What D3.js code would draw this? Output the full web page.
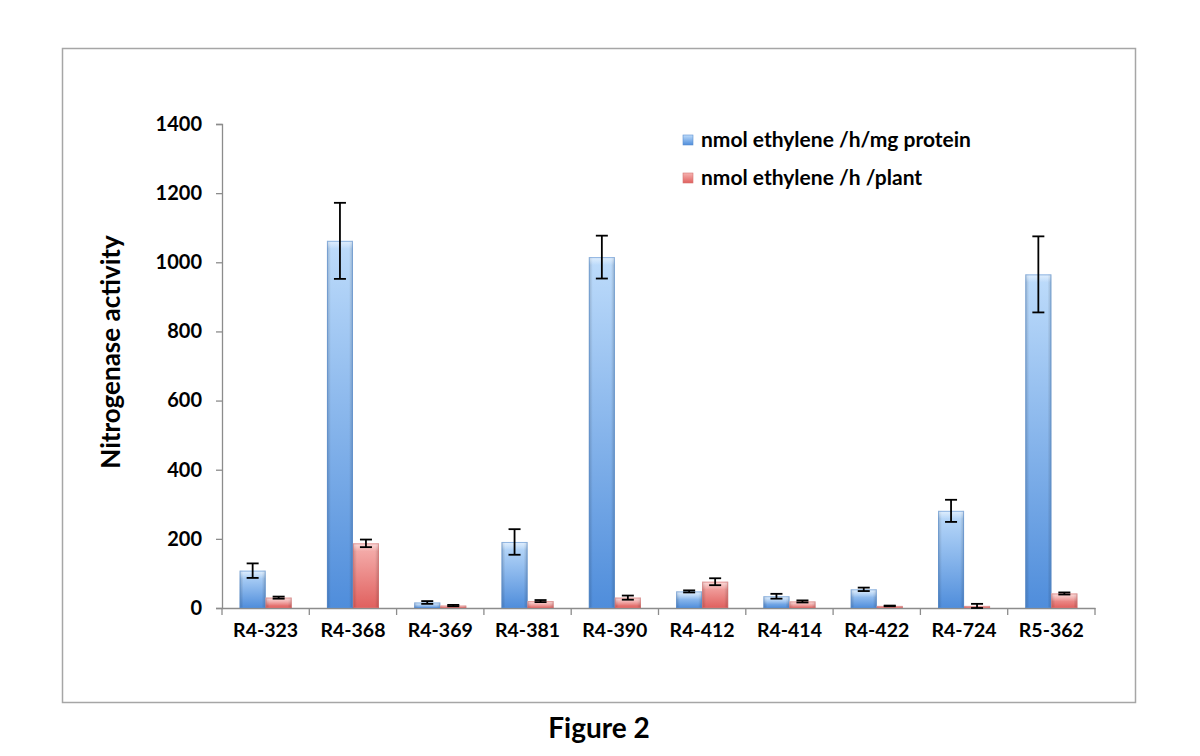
<!DOCTYPE html>
<html><head><meta charset="utf-8">
<script src="https://cdn.jsdelivr.net/npm/d3@7"></script>
<style>
body{margin:0;background:#fff;}
svg{display:block;font-family:Lato,"Open Sans",sans-serif;font-weight:bold;}
</style></head><body>
<svg id="c" width="1200" height="756"></svg>
<script>
const categories = ["R4-323","R4-368","R4-369","R4-381","R4-390","R4-412","R4-414","R4-422","R4-724","R5-362"];
const proteinValues = [108,1062,16,191,1015,48,34,54,281,965];
const proteinErrors = [21,110,4,37,62,3,7,5,32,110];
const plantValues = [30,187,7,20,30,76,19,6,6,42];
const plantErrors = [3,11,2,3,6,10,3,1,6,3];
const seriesNames = ["nmol ethylene /h/mg protein","nmol ethylene /h /plant"];
const yTicks = [0,200,400,600,800,1000,1200,1400];
const yTitle = "Nitrogenase activity";
const caption = "Figure 2";

const svg = d3.select("#c");
const defs = svg.append("defs");
function grad(id, top, bot){
  const g = defs.append("linearGradient").attr("id",id).attr("x1",0).attr("y1",0).attr("x2",0).attr("y2",1);
  g.append("stop").attr("offset","0").attr("stop-color",top);
  g.append("stop").attr("offset","1").attr("stop-color",bot);
}
grad("gBlue","#bedcfb","#4f8ddb");
grad("gRed","#f6b3b1","#e0605e");
const hg = defs.append("linearGradient").attr("id","gEdge").attr("x1",0).attr("y1",0).attr("x2",1).attr("y2",0);
[[0,0.18],[0.15,0],[0.85,0],[1,0.18]].forEach(([o,a])=>hg.append("stop").attr("offset",o).attr("stop-color","#000").attr("stop-opacity",a));
const tg = defs.append("linearGradient").attr("id","gTop").attr("x1",0).attr("y1",0).attr("x2",0).attr("y2",1);
[[0,0.55],[1,0]].forEach(([o,a])=>tg.append("stop").attr("offset",o).attr("stop-color","#fff").attr("stop-opacity",a));

// frame
svg.append("rect").attr("x",62.5).attr("y",48.5).attr("width",1073).attr("height",654)
  .attr("fill","none").attr("stroke","#a6a6a6").attr("stroke-width",1.5);

const x0 = d3.scaleBand().domain(categories).range([222,1095]).paddingInner(0).paddingOuter(0);
const y = d3.scaleLinear().domain([0,1400]).range([608,124]);
const barW = 26;

// y axis
const yAxis = svg.append("g").attr("transform","translate(222,0)")
  .call(d3.axisLeft(y).tickValues(yTicks).tickSize(6).tickPadding(14).tickFormat(d3.format("d")));
yAxis.select(".domain").attr("stroke","#8c8c8c").attr("stroke-width",1.3);
yAxis.selectAll(".tick line").attr("stroke","#8c8c8c").attr("stroke-width",1.3);
yAxis.selectAll("text").attr("font-size",20).attr("font-family","Lato,sans-serif").attr("font-weight","bold").attr("fill","#000");

// x axis
const xAxis = svg.append("g").attr("transform","translate(0,608)")
  .call(d3.axisBottom(x0).tickSize(0).tickPadding(15));
xAxis.select(".domain").attr("stroke","#8c8c8c").attr("stroke-width",1.3);
xAxis.selectAll("text").attr("font-size",19.5).attr("font-family","Lato,sans-serif").attr("font-weight","bold").attr("fill","#000");
// boundary ticks
svg.append("g").selectAll("line").data(d3.range(categories.length+1)).join("line")
  .attr("x1",i=>222+i*x0.bandwidth()).attr("x2",i=>222+i*x0.bandwidth())
  .attr("y1",608).attr("y2",615).attr("stroke","#8c8c8c").attr("stroke-width",1.3);

// bars
const series = [
  {vals:proteinValues, errs:proteinErrors, fill:"url(#gBlue)", stroke:"#5c8fcf", off:-barW},
  {vals:plantValues, errs:plantErrors, fill:"url(#gRed)", stroke:"#d57573", off:0}
];
series.forEach(s=>{
  const g = svg.append("g");
  categories.forEach((c,i)=>{
    const cx = x0(c)+x0.bandwidth()/2 + s.off;
    const v = s.vals[i];
    const yt = y(v), h = y(0)-y(v);
    g.append("rect").attr("x",cx).attr("y",yt).attr("width",barW).attr("height",h).attr("fill",s.fill);
    g.append("rect").attr("x",cx).attr("y",yt).attr("width",barW).attr("height",h).attr("fill","url(#gEdge)");
    g.append("rect").attr("x",cx).attr("y",yt).attr("width",barW).attr("height",Math.min(h,8)).attr("fill","url(#gTop)");
    g.append("rect").attr("x",cx+0.5).attr("y",yt+0.5).attr("width",barW-1).attr("height",Math.max(h-1,0))
      .attr("fill","none").attr("stroke",s.stroke).attr("stroke-opacity",0.6).attr("stroke-width",1);
  });
});
// error bars
series.forEach(s=>{
  const g = svg.append("g").attr("stroke","#000").attr("stroke-width",1.8);
  categories.forEach((c,i)=>{
    const ex = x0(c)+x0.bandwidth()/2 + s.off + barW/2;
    const v = s.vals[i], e = s.errs[i];
    const yt = y(v+e), yb = y(Math.max(v-e,0));
    g.append("line").attr("x1",ex).attr("x2",ex).attr("y1",yt).attr("y2",yb);
    g.append("line").attr("x1",ex-6).attr("x2",ex+6).attr("y1",yt).attr("y2",yt);
    g.append("line").attr("x1",ex-6).attr("x2",ex+6).attr("y1",yb).attr("y2",yb);
  });
});

// y title
svg.append("text").attr("transform","translate(120,352) rotate(-90)").attr("text-anchor","middle")
  .attr("font-size",26).attr("fill","#000").text(yTitle);

// legend
const legFills = ["url(#gBlue)","url(#gRed)"];
const legStroke = ["#5c8fcf","#d57573"];
seriesNames.forEach((n,i)=>{
  const ly = 140 + i*38;
  svg.append("rect").attr("x",683).attr("y",ly-5).attr("width",10).attr("height",10)
    .attr("fill",legFills[i]).attr("stroke",legStroke[i]).attr("stroke-width",0.6);
  svg.append("text").attr("x",701).attr("y",ly+7).attr("font-size",21).attr("fill","#000").text(n);
});

// caption
svg.append("text").attr("x",599).attr("y",738).attr("text-anchor","middle")
  .attr("font-size",28).attr("fill","#000").text(caption);
</script>
</body></html>
